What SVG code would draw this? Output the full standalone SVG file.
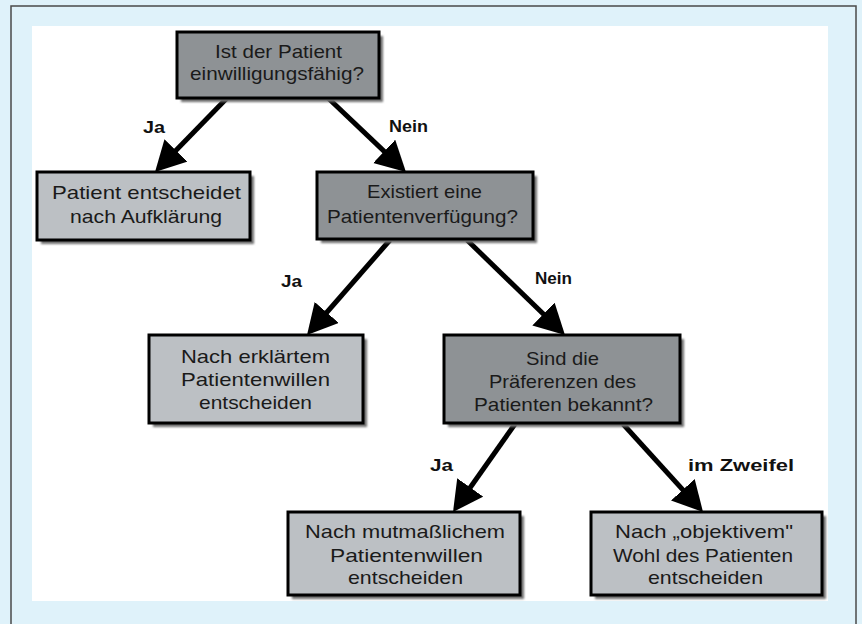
<svg xmlns="http://www.w3.org/2000/svg" width="862" height="624" viewBox="0 0 862 624">
  <style>
    .frame { fill: #dff2fa; }
    .border { fill: none; stroke: #4a4a4a; stroke-width: 1.5; }
    .panel { fill: #ffffff; }
    .box { stroke: #000000; stroke-width: 3; }
    .dark { fill: #8e9295; }
    .light { fill: #bcc0c4; }
    .shadow { fill: #6e6e6e; filter: url(#blur); }
    .t { font-family: "Liberation Sans", Arial, sans-serif; font-size: 19px; fill: #1a1a1a; }
    .lbl { font-family: "Liberation Sans", Arial, sans-serif; font-size: 17px; font-weight: bold; fill: #111111; }
    .conn { stroke: #000000; stroke-width: 5; fill: none; marker-end: url(#arrow); }
  </style>
  <defs>
    <filter id="blur" x="-10%" y="-10%" width="130%" height="130%">
      <feGaussianBlur stdDeviation="1.2"/>
    </filter>
    <marker id="arrow" markerUnits="userSpaceOnUse" markerWidth="32" markerHeight="34" refX="20" refY="16" orient="auto">
      <path d="M0,0 L30,16 L0,32 z" fill="#000000"/>
    </marker>
  </defs>

  <rect class="frame" x="0" y="0" width="862" height="624"/>
  <rect class="border" x="11" y="6" width="845" height="640"/>
  <rect class="panel" x="32" y="26" width="796" height="575"/>

  <g id="connectors">
    <line class="conn" x1="228" y1="97" x2="162" y2="164.8"/>
    <line class="conn" x1="327" y1="97" x2="398.7" y2="165.1"/>
    <line class="conn" x1="390" y1="240" x2="313.6" y2="327.5"/>
    <line class="conn" x1="467" y1="240" x2="557.8" y2="328"/>
    <line class="conn" x1="515" y1="424" x2="458.8" y2="503.8"/>
    <line class="conn" x1="623" y1="424" x2="696.3" y2="504.6"/>
    <text class="lbl" x="143" y="133" textLength="22" lengthAdjust="spacingAndGlyphs">Ja</text>
    <text class="lbl" x="389" y="132" textLength="39" lengthAdjust="spacingAndGlyphs">Nein</text>
    <text class="lbl" x="281" y="286.5" textLength="21" lengthAdjust="spacingAndGlyphs">Ja</text>
    <text class="lbl" x="535" y="284" textLength="37" lengthAdjust="spacingAndGlyphs">Nein</text>
    <text class="lbl" x="430" y="470.5" textLength="23" lengthAdjust="spacingAndGlyphs">Ja</text>
    <text class="lbl" x="688" y="471" textLength="106" lengthAdjust="spacingAndGlyphs">im Zweifel</text>
  </g>

  <g id="n1">
    <rect class="shadow" x="181" y="36" width="202" height="66"/>
    <rect class="box dark" x="177" y="32" width="202" height="66"/>
    <text class="t" x="215" y="57.5" textLength="127" lengthAdjust="spacingAndGlyphs">Ist der Patient</text>
    <text class="t" x="190" y="80" textLength="174" lengthAdjust="spacingAndGlyphs">einwilligungsfähig?</text>
  </g>

  <g id="n2">
    <rect class="shadow" x="41" y="176" width="213" height="68"/>
    <rect class="box light" x="37" y="172" width="213" height="68"/>
    <text class="t" x="52" y="199" textLength="189" lengthAdjust="spacingAndGlyphs">Patient entscheidet</text>
    <text class="t" x="70" y="222.5" textLength="152" lengthAdjust="spacingAndGlyphs">nach Aufklärung</text>
  </g>

  <g id="n3">
    <rect class="shadow" x="321" y="176" width="216" height="67"/>
    <rect class="box dark" x="317" y="172" width="216" height="67"/>
    <text class="t" x="367" y="198" textLength="115" lengthAdjust="spacingAndGlyphs">Existiert eine</text>
    <text class="t" x="327" y="223" textLength="191" lengthAdjust="spacingAndGlyphs">Patientenverfügung?</text>
  </g>

  <g id="n4">
    <rect class="shadow" x="153" y="339" width="214" height="88"/>
    <rect class="box light" x="149" y="335" width="214" height="88"/>
    <text class="t" x="181" y="362.5" textLength="149" lengthAdjust="spacingAndGlyphs">Nach erklärtem</text>
    <text class="t" x="181" y="386" textLength="149" lengthAdjust="spacingAndGlyphs">Patientenwillen</text>
    <text class="t" x="199" y="408.5" textLength="113" lengthAdjust="spacingAndGlyphs">entscheiden</text>
  </g>

  <g id="n5">
    <rect class="shadow" x="448" y="339" width="236" height="88"/>
    <rect class="box dark" x="444" y="335" width="236" height="88"/>
    <text class="t" x="526" y="365" textLength="73" lengthAdjust="spacingAndGlyphs">Sind die</text>
    <text class="t" x="489" y="388" textLength="147" lengthAdjust="spacingAndGlyphs">Präferenzen des</text>
    <text class="t" x="474" y="411" textLength="179" lengthAdjust="spacingAndGlyphs">Patienten bekannt?</text>
  </g>

  <g id="n6">
    <rect class="shadow" x="292" y="516" width="232" height="83"/>
    <rect class="box light" x="288" y="512" width="232" height="83"/>
    <text class="t" x="305" y="538" textLength="200" lengthAdjust="spacingAndGlyphs">Nach mutmaßlichem</text>
    <text class="t" x="330" y="561.5" textLength="153" lengthAdjust="spacingAndGlyphs">Patientenwillen</text>
    <text class="t" x="348" y="583.5" textLength="115" lengthAdjust="spacingAndGlyphs">entscheiden</text>
  </g>

  <g id="n7">
    <rect class="shadow" x="595" y="516" width="231" height="83"/>
    <rect class="box light" x="591" y="512" width="231" height="83"/>
    <text class="t" x="615" y="538" textLength="178" lengthAdjust="spacingAndGlyphs">Nach „objektivem"</text>
    <text class="t" x="613" y="561.5" textLength="180" lengthAdjust="spacingAndGlyphs">Wohl des Patienten</text>
    <text class="t" x="648" y="583.5" textLength="115" lengthAdjust="spacingAndGlyphs">entscheiden</text>
  </g>
</svg>
